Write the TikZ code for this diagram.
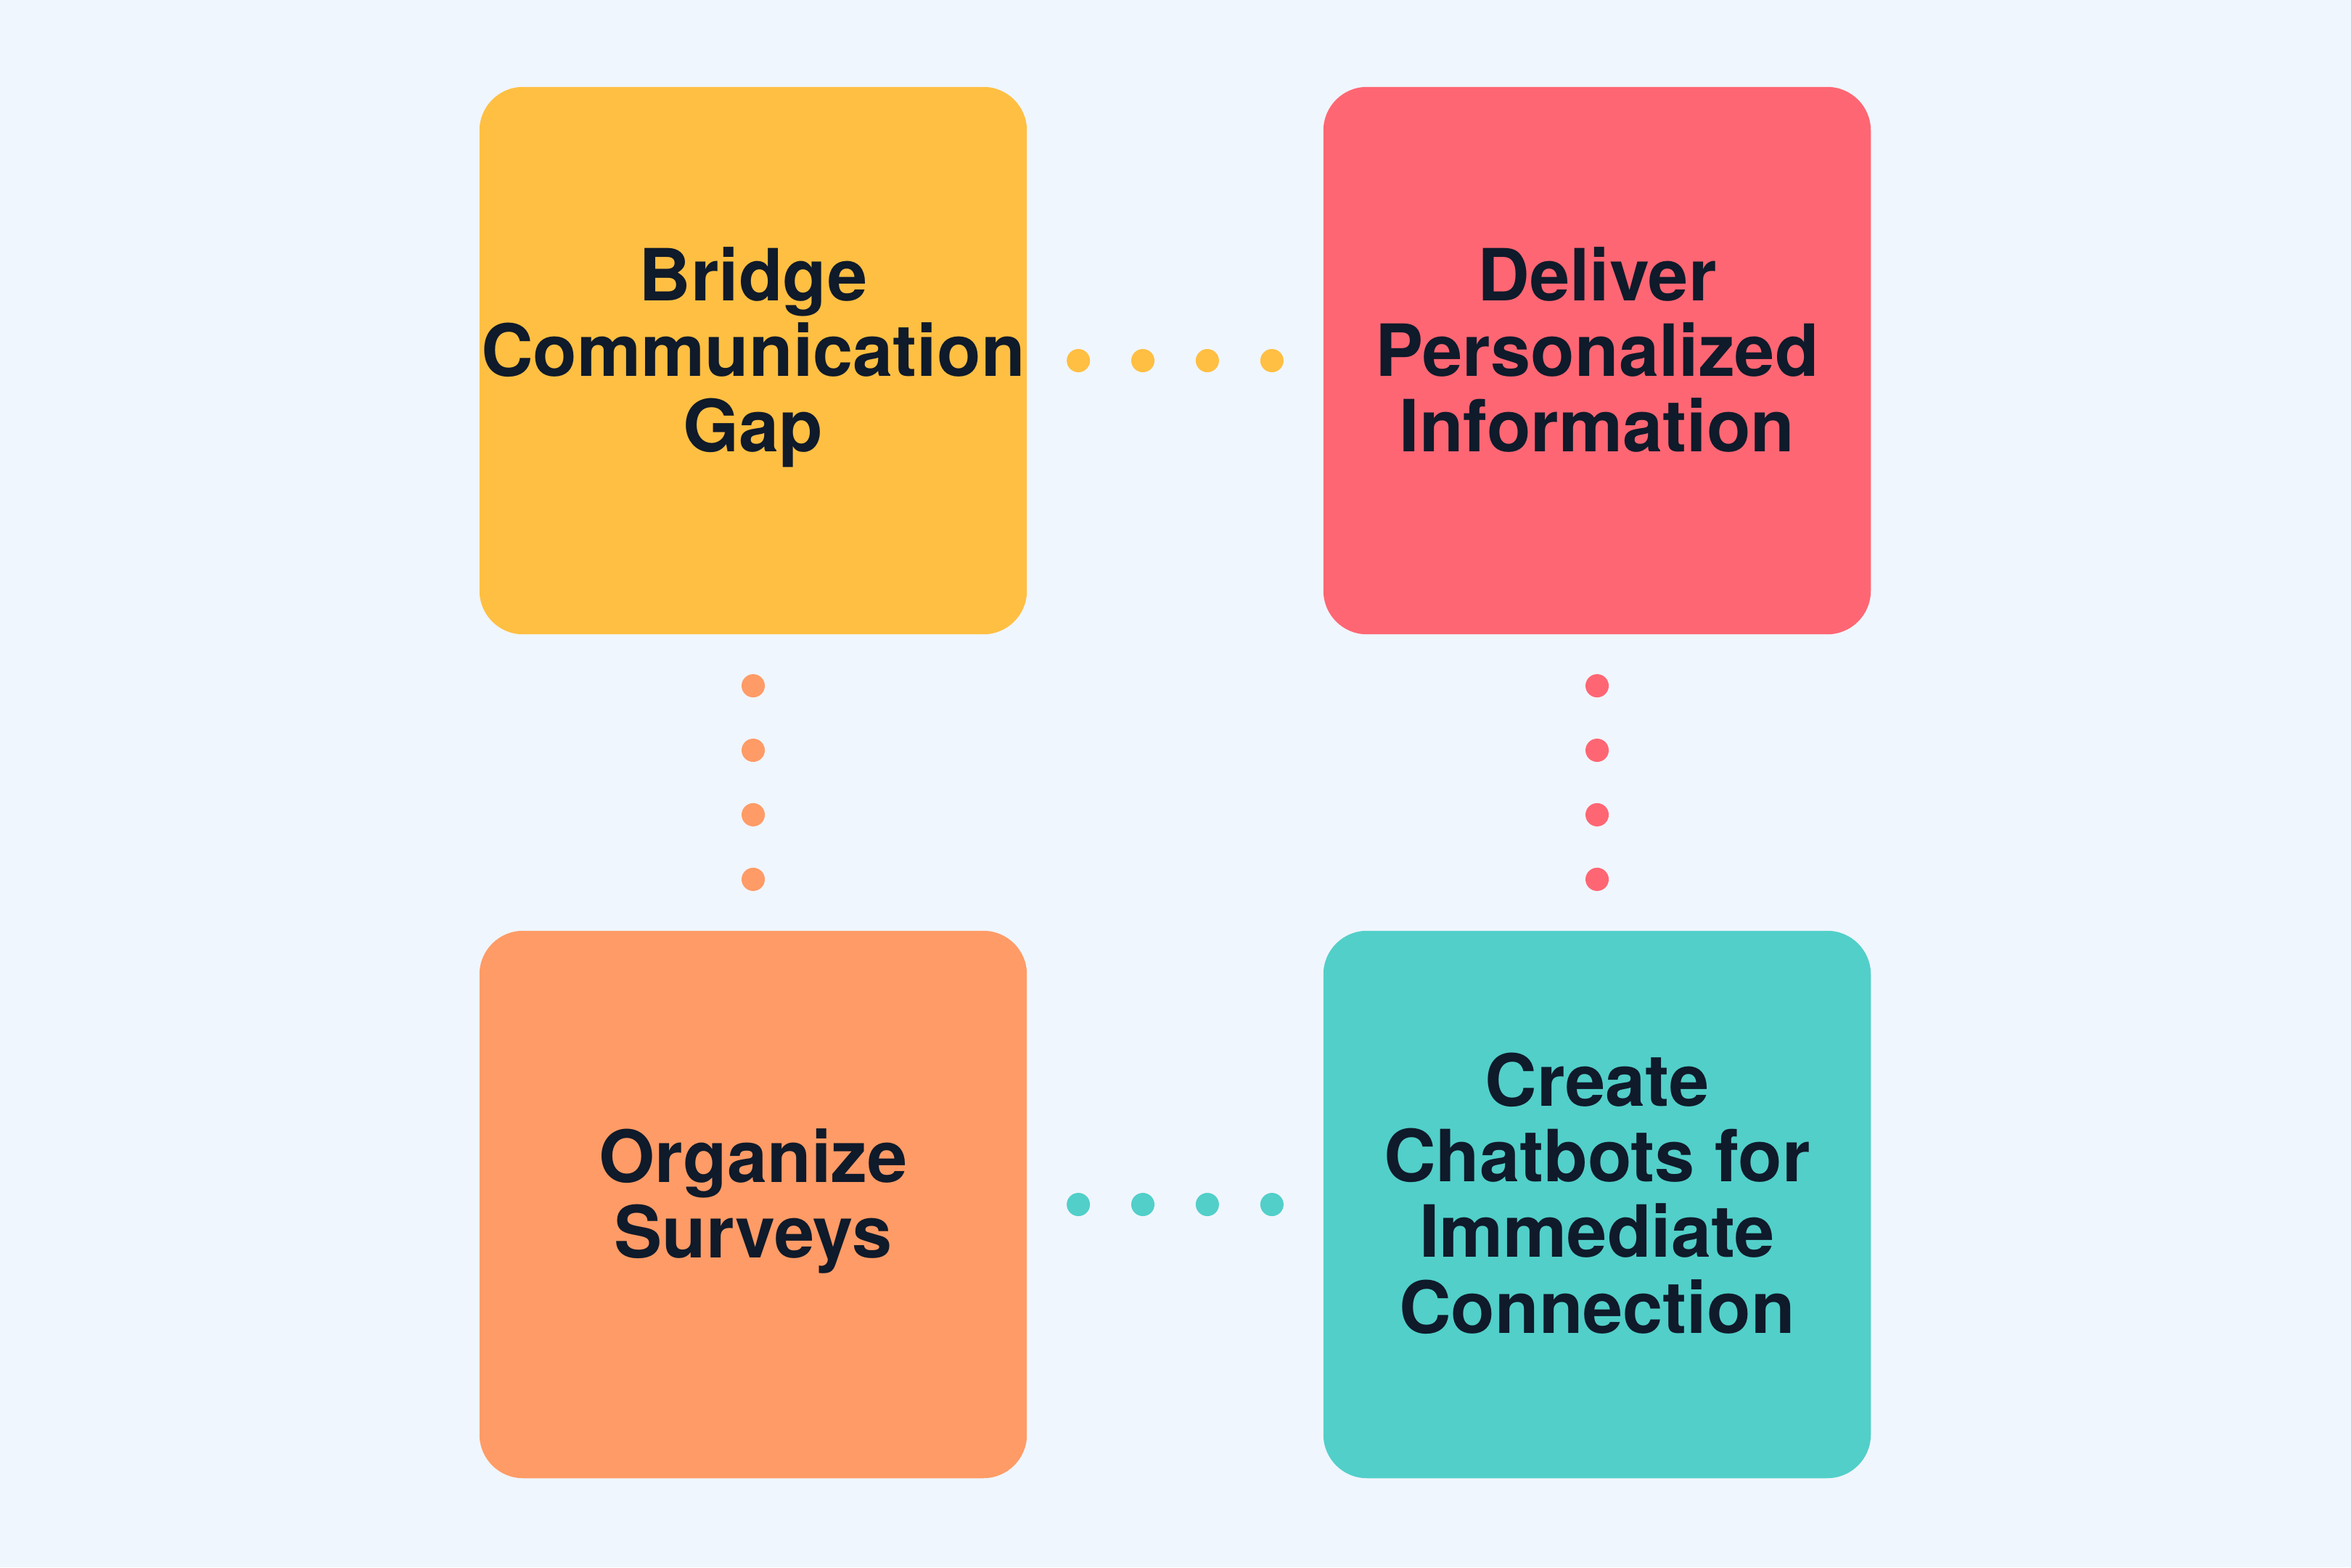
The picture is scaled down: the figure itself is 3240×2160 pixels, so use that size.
\documentclass[tikz,border=0pt]{standalone}
\usepackage{fontspec}
\setmainfont{TeX Gyre Heros}
\definecolor{bgc}{HTML}{F0F6FE}
\definecolor{yel}{HTML}{FFBF42}
\definecolor{redc}{HTML}{FF6673}
\definecolor{orc}{HTML}{FF9B66}
\definecolor{tealc}{HTML}{52CFC9}
\definecolor{ink}{HTML}{0F1A2A}
\newcommand\topstrut{\rule{0pt}{20.5pt}}
\newcommand\botstrut{\rule[-9pt]{0pt}{9pt}}
\tikzset{
  card/.style={minimum width=7.54cm, minimum height=7.54cm, rounded corners=0.6cm, inner sep=0pt, align=center, text=ink, font=\fontsize{28.2pt}{29.6pt}\selectfont\bfseries, draw=none, execute at begin node=\topstrut, execute at end node=\botstrut},
  dotc/.style={circle, inner sep=0pt, minimum size=0.32cm, draw=none}
}
\begin{document}
\begin{tikzpicture}[x=0.01cm,y=-0.01cm]
\fill[bgc] (0,0) rectangle (3240,2160);
\useasboundingbox (0,0) rectangle (3240,2160);
\node[card, fill=yel] (a) at (1038,497) {Bridge\\Communication\\Gap};
\node[card, fill=redc] (b) at (2201,497) {Deliver\\Personalized\\Information};
\node[card, fill=orc] (c) at (1038,1660) {Organize\\Surveys};
\node[card, fill=tealc] (d) at (2201,1660) {Create\\Chatbots for\\Immediate\\Connection};
\path (a.east) -- (b.west)
  node[dotc, fill=yel, pos=0.1724] (ab1) {}
  node[dotc, fill=yel, pos=0.3907] (ab2) {}
  node[dotc, fill=yel, pos=0.6090] (ab3) {}
  node[dotc, fill=yel, pos=0.8276] (ab4) {};
\path (a.south) -- (c.north)
  node[dotc, fill=orc, pos=0.1724] (ac1) {}
  node[dotc, fill=orc, pos=0.3907] (ac2) {}
  node[dotc, fill=orc, pos=0.6090] (ac3) {}
  node[dotc, fill=orc, pos=0.8276] (ac4) {};
\path (b.south) -- (d.north)
  node[dotc, fill=redc, pos=0.1724] (bd1) {}
  node[dotc, fill=redc, pos=0.3907] (bd2) {}
  node[dotc, fill=redc, pos=0.6090] (bd3) {}
  node[dotc, fill=redc, pos=0.8276] (bd4) {};
\path (c.east) -- (d.west)
  node[dotc, fill=tealc, pos=0.1724] (cd1) {}
  node[dotc, fill=tealc, pos=0.3907] (cd2) {}
  node[dotc, fill=tealc, pos=0.6090] (cd3) {}
  node[dotc, fill=tealc, pos=0.8276] (cd4) {};
\end{tikzpicture}
\end{document}
